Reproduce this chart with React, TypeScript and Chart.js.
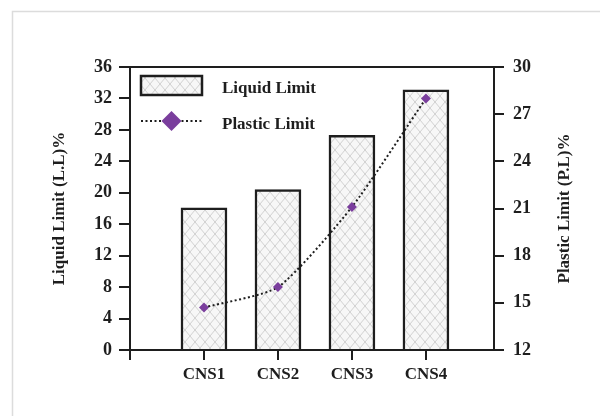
import { useEffect, useRef } from 'react';
import { Chart, registerables } from 'chart.js';

Chart.register(...registerables);

const categories = ['CNS1', 'CNS2', 'CNS3', 'CNS4'];
const liquidLimit = [18.1, 20.4, 27.3, 33.1];
const plasticLimit = [14.7, 16.0, 21.1, 28.0];
const leftAxisRange = [0, 36, 4];
const rightAxisRange = [12, 30, 3];
const xTickValues = [0, 1, 2, 3, 4];
const leftTitle = 'Liquid Limit (L.L)%';
const rightTitle = 'Plastic Limit (P.L)%';

const INK = '#1e1e1e';
const PURPLE = '#7a3e9d';
const FONT = '"Liberation Serif", "Times New Roman", serif';

function makePattern(): CanvasPattern | string {
  const c = document.createElement('canvas');
  c.width = 10;
  c.height = 12;
  const g = c.getContext('2d');
  if (!g) return '#f4f4f4';
  g.fillStyle = '#f7f7f7';
  g.fillRect(0, 0, 10, 12);
  g.strokeStyle = '#c6c6c6';
  g.lineWidth = 0.8;
  g.beginPath();
  g.moveTo(0, 0);
  g.lineTo(10, 12);
  g.moveTo(10, 0);
  g.lineTo(0, 12);
  g.stroke();
  return g.createPattern(c, 'repeat') || '#f4f4f4';
}

export default function App() {
  const ref = useRef<HTMLCanvasElement | null>(null);

  useEffect(() => {
    const canvas = ref.current;
    if (!canvas) return;
    const pattern = makePattern();

    const decor = {
      id: 'decor',
      beforeDraw(chart: any) {
        const ctx = chart.ctx;
        ctx.save();
        ctx.strokeStyle = '#dcdcdc';
        ctx.lineWidth = 1.5;
        ctx.strokeRect(12.5, 11.5, 800, 800);
        ctx.restore();
      },
      afterDraw(chart: any) {
        const ctx = chart.ctx;
        const a = chart.chartArea;
        ctx.save();
        // top border of plot box
        ctx.strokeStyle = INK;
        ctx.lineWidth = 2;
        ctx.beginPath();
        ctx.moveTo(a.left - 1, a.top);
        ctx.lineTo(a.right + 1, a.top);
        ctx.stroke();

        // axis titles
        ctx.fillStyle = INK;
        ctx.font = `bold 17px ${FONT}`;
        ctx.textAlign = 'center';
        ctx.textBaseline = 'middle';
        const cy = (a.top + a.bottom) / 2;
        ctx.save();
        ctx.translate(60, cy);
        ctx.rotate(-Math.PI / 2);
        ctx.fillText(leftTitle, 0, 0);
        ctx.restore();
        ctx.save();
        ctx.translate(565, cy);
        ctx.rotate(-Math.PI / 2);
        ctx.fillText(rightTitle, 0, 0);
        ctx.restore();

        // legend
        const ds = chart.data.datasets;
        const lx = a.left + 11;
        // bar item
        ctx.fillStyle = pattern as any;
        ctx.fillRect(lx, 76, 61, 19);
        ctx.strokeStyle = INK;
        ctx.lineWidth = 2.5;
        ctx.strokeRect(lx, 76, 61, 19);
        // line item
        ctx.setLineDash([2, 2.5]);
        ctx.lineWidth = 2;
        ctx.beginPath();
        ctx.moveTo(lx, 121);
        ctx.lineTo(lx + 61, 121);
        ctx.stroke();
        ctx.setLineDash([]);
        const dx = lx + 30.5;
        ctx.fillStyle = PURPLE;
        ctx.beginPath();
        ctx.moveTo(dx - 10, 121);
        ctx.lineTo(dx, 111);
        ctx.lineTo(dx + 10, 121);
        ctx.lineTo(dx, 131);
        ctx.closePath();
        ctx.fill();
        // texts
        ctx.fillStyle = INK;
        ctx.font = `bold 17px ${FONT}`;
        ctx.textAlign = 'left';
        ctx.textBaseline = 'alphabetic';
        ctx.fillText(ds[0].label, lx + 81, 93);
        ctx.fillText(ds[1].label, lx + 81, 129);
        ctx.restore();
      },
    };

    const chart = new Chart(canvas, {
      data: {
        datasets: [
          {
            type: 'bar',
            label: 'Liquid Limit',
            data: categories.map((_, i) => ({ x: i + 1, y: liquidLimit[i] })),
            yAxisID: 'yL',
            backgroundColor: pattern as any,
            borderColor: INK,
            borderWidth: 2.5,
            borderSkipped: 'start',
            barThickness: 46,
            order: 2,
          },
          {
            type: 'line',
            label: 'Plastic Limit',
            data: categories.map((_, i) => ({ x: i + 1, y: plasticLimit[i] })),
            yAxisID: 'yR',
            borderColor: INK,
            borderWidth: 2,
            borderDash: [2, 2.5],
            tension: 0.2,
            pointStyle: 'rectRot',
            pointRadius: 5,
            pointBackgroundColor: PURPLE,
            pointBorderColor: PURPLE,
            pointBorderWidth: 0,
            order: 1,
          },
        ],
      },
      options: {
        animation: false,
        responsive: false,
        maintainAspectRatio: false,
        layout: { padding: { top: 67, left: 0, right: 0, bottom: 0 } },
        plugins: {
          legend: { display: false },
          tooltip: { enabled: false },
        },
        scales: {
          x: {
            type: 'linear',
            min: 0,
            max: 4.92,
            offset: false,
            afterBuildTicks: (s: any) => {
              s.ticks = xTickValues.map((v) => ({ value: v }));
            },
            afterFit: (s: any) => {
              s.height = 66;
            },
            ticks: {
              color: INK,
              font: { family: FONT, size: 17, weight: 'bold' },
              padding: 4,
              maxRotation: 0,
              autoSkip: false,
              callback: (v: any) => categories[Number(v) - 1] ?? '',
            },
            grid: {
              offset: false,
              drawOnChartArea: false,
              drawTicks: true,
              tickLength: 10,
              color: INK,
              lineWidth: 2,
            },
            border: { display: true, color: INK, width: 2 },
          },
          yL: {
            type: 'linear',
            position: 'left',
            min: leftAxisRange[0],
            max: leftAxisRange[1],
            afterFit: (s: any) => {
              s.width = 130;
            },
            ticks: {
              stepSize: leftAxisRange[2],
              color: INK,
              font: { family: FONT, size: 18, weight: 'bold' },
              padding: 7,
            },
            grid: {
              drawOnChartArea: false,
              tickLength: 11,
              color: INK,
              lineWidth: 2,
            },
            border: { display: true, color: INK, width: 2 },
          },
          yR: {
            type: 'linear',
            position: 'right',
            min: rightAxisRange[0],
            max: rightAxisRange[1],
            afterFit: (s: any) => {
              s.width = 106;
            },
            ticks: {
              stepSize: rightAxisRange[2],
              color: INK,
              font: { family: FONT, size: 18, weight: 'bold' },
              padding: 9,
            },
            grid: {
              drawOnChartArea: false,
              tickLength: 10,
              color: INK,
              lineWidth: 2,
            },
            border: { display: true, color: INK, width: 2 },
          },
        },
      },
      plugins: [decor],
    } as any);

    return () => chart.destroy();
  }, []);

  return (
    <div style={{ position: 'fixed', left: 0, top: 0, width: 600, height: 416, background: '#fff' }}>
      <canvas ref={ref} width={600} height={416} style={{ display: 'block', width: 600, height: 416 }} />
    </div>
  );
}
